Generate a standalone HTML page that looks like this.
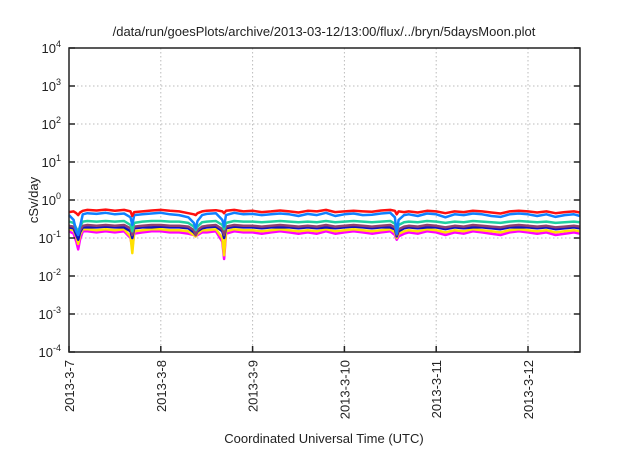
<!DOCTYPE html>
<html><head><meta charset="utf-8"><style>
body{margin:0;background:#fff;width:640px;height:448px;overflow:hidden}
svg{font-family:"Liberation Sans",sans-serif}
</style></head><body>
<svg id="chart" width="640" height="448">
<text x="324" y="36" font-size="13" text-anchor="middle" fill="#222">/data/run/goesPlots/archive/2013-03-12/13:00/flux/../bryn/5daysMoon.plot</text>
<g id="grid"></g>
<g id="series"></g>
<rect x="69" y="48" width="511" height="304" fill="none" stroke="#222" stroke-width="1.5"/>
<g id="axes"></g>
<text transform="translate(38,200) rotate(-90)" font-size="13" text-anchor="middle" fill="#222">cSv/day</text>
<text x="324" y="443" font-size="13" text-anchor="middle" fill="#222">Coordinated Universal Time (UTC)</text>
</svg>
<script>
const xTickLabels=["2013-3-7","2013-3-8","2013-3-9","2013-3-10","2013-3-11","2013-3-12"];
const yExps=[-4,-3,-2,-1,0,1,2,3,4];
const days=[0,0.05,0.08,0.1,0.12,0.15,0.2,0.3,0.4,0.5,0.6,0.67,0.69,0.71,0.8,0.9,1.0,1.1,1.2,1.3,1.36,1.38,1.40,1.45,1.5,1.6,1.67,1.69,1.71,1.8,1.9,2.0,2.1,2.2,2.3,2.4,2.5,2.6,2.7,2.8,2.9,3.0,3.1,3.2,3.3,3.4,3.5,3.55,3.57,3.59,3.65,3.7,3.8,3.9,4.0,4.1,4.2,4.3,4.4,4.5,4.6,4.7,4.8,4.9,5.0,5.1,5.2,5.3,5.4,5.5,5.57];
const red=[0.48,0.5,0.45,0.4,0.47,0.52,0.55,0.53,0.56,0.52,0.55,0.5,0.38,0.48,0.5,0.53,0.55,0.52,0.5,0.45,0.42,0.4,0.45,0.5,0.52,0.54,0.5,0.45,0.52,0.55,0.5,0.52,0.48,0.5,0.53,0.5,0.47,0.52,0.5,0.55,0.48,0.5,0.52,0.5,0.49,0.53,0.55,0.52,0.42,0.5,0.48,0.5,0.47,0.52,0.5,0.45,0.5,0.48,0.52,0.5,0.47,0.44,0.5,0.52,0.5,0.47,0.5,0.45,0.48,0.5,0.47];
const blue=[0.4,0.3,0.15,0.12,0.2,0.42,0.45,0.43,0.46,0.42,0.44,0.35,0.22,0.4,0.42,0.44,0.46,0.42,0.4,0.35,0.25,0.18,0.28,0.4,0.43,0.45,0.3,0.2,0.4,0.46,0.42,0.43,0.4,0.42,0.44,0.42,0.38,0.43,0.4,0.46,0.38,0.42,0.44,0.4,0.41,0.44,0.46,0.35,0.13,0.3,0.4,0.42,0.38,0.44,0.42,0.35,0.42,0.4,0.44,0.42,0.38,0.36,0.42,0.44,0.42,0.38,0.42,0.36,0.4,0.42,0.38];
const cyan=[0.27,0.25,0.18,0.15,0.2,0.27,0.28,0.27,0.28,0.27,0.28,0.22,0.15,0.25,0.27,0.28,0.28,0.27,0.27,0.25,0.2,0.16,0.2,0.26,0.27,0.28,0.22,0.17,0.25,0.28,0.27,0.27,0.26,0.27,0.28,0.27,0.26,0.27,0.26,0.28,0.26,0.27,0.28,0.27,0.26,0.27,0.28,0.24,0.15,0.22,0.26,0.27,0.26,0.28,0.27,0.25,0.27,0.26,0.28,0.27,0.26,0.25,0.27,0.28,0.27,0.26,0.27,0.25,0.26,0.27,0.26];
const purple=[0.21,0.2,0.15,0.12,0.16,0.21,0.22,0.21,0.22,0.21,0.22,0.18,0.12,0.2,0.21,0.22,0.22,0.21,0.21,0.2,0.16,0.12,0.16,0.2,0.21,0.22,0.17,0.12,0.2,0.22,0.21,0.21,0.2,0.21,0.22,0.21,0.2,0.21,0.2,0.22,0.2,0.21,0.22,0.21,0.2,0.21,0.22,0.19,0.12,0.17,0.2,0.21,0.2,0.22,0.21,0.19,0.21,0.2,0.22,0.21,0.2,0.19,0.21,0.22,0.21,0.2,0.21,0.19,0.2,0.21,0.2];
const navy=[0.19,0.18,0.12,0.09,0.14,0.19,0.19,0.19,0.2,0.19,0.19,0.15,0.1,0.18,0.19,0.19,0.2,0.19,0.19,0.18,0.14,0.12,0.15,0.18,0.19,0.2,0.15,0.1,0.18,0.2,0.19,0.19,0.18,0.19,0.19,0.19,0.18,0.19,0.18,0.19,0.18,0.19,0.2,0.19,0.18,0.19,0.19,0.17,0.11,0.15,0.18,0.19,0.18,0.19,0.19,0.17,0.19,0.18,0.19,0.19,0.18,0.17,0.19,0.19,0.19,0.18,0.19,0.17,0.18,0.19,0.18];
const yellow=[0.17,0.16,0.11,0.07,0.12,0.17,0.17,0.16,0.17,0.16,0.17,0.11,0.04,0.15,0.16,0.17,0.17,0.16,0.16,0.15,0.12,0.11,0.13,0.16,0.16,0.17,0.1,0.035,0.15,0.17,0.16,0.16,0.15,0.16,0.17,0.16,0.15,0.16,0.15,0.17,0.15,0.16,0.17,0.16,0.15,0.16,0.17,0.14,0.1,0.13,0.15,0.16,0.15,0.17,0.16,0.14,0.16,0.15,0.17,0.16,0.15,0.14,0.16,0.17,0.16,0.15,0.16,0.14,0.15,0.16,0.15];
const magenta=[0.15,0.13,0.08,0.05,0.09,0.15,0.15,0.14,0.15,0.14,0.15,0.1,0.055,0.13,0.14,0.15,0.15,0.14,0.14,0.13,0.12,0.11,0.12,0.14,0.14,0.15,0.08,0.028,0.13,0.15,0.14,0.14,0.13,0.14,0.15,0.14,0.13,0.14,0.13,0.15,0.13,0.14,0.15,0.14,0.13,0.14,0.15,0.12,0.09,0.11,0.13,0.14,0.13,0.15,0.14,0.12,0.14,0.13,0.15,0.14,0.13,0.12,0.14,0.15,0.14,0.13,0.14,0.12,0.13,0.14,0.13];
const seriesList=[["magenta",magenta,"#ff00ff"],["yellow",yellow,"#ffe000"],["navy",navy,"#1010c0"],["purple",purple,"#904070"],["cyan",cyan,"#20d0a0"],["blue",blue,"#1080ff"],["red",red,"#ff1010"]];
const L=69,R=580,T=48,B=352,dayPx=91.8;
const xs=d=>Math.min(R,L+d*dayPx);
const ys=v=>B-(Math.log10(v)+4)*(B-T)/8;
const NS="http://www.w3.org/2000/svg";
const grid=document.getElementById('grid'),axes=document.getElementById('axes'),sg=document.getElementById('series');
function mk(tag,attrs,parent){const e=document.createElementNS(NS,tag);for(const k in attrs)e.setAttribute(k,attrs[k]);parent.appendChild(e);return e;}
yExps.forEach((e)=>{const y=ys(Math.pow(10,e));
 if(e>-4&&e<4){const g=mk('line',{x1:L,x2:R,y1:y,y2:y,stroke:'#bbb','stroke-dasharray':'1.5,2.5'},grid);
 
 }
 const t=mk('line',{x1:L,x2:L+6,y1:y,y2:y,stroke:'#222','stroke-width':1.5},axes);
 
 
 const t2=mk('line',{x1:R-6,x2:R,y1:y,y2:y,stroke:'#222','stroke-width':1.5},axes);
 
 
 const tx=mk('text',{x:L-8,y:y+5,'font-size':13,'text-anchor':'end',fill:'#222'},axes);
 
 
 tx.appendChild(document.createTextNode('10'));
 const sp=mk('tspan',{dy:-6,'font-size':9},tx);sp.textContent=String(e);
});
xTickLabels.forEach((lab,i)=>{const x=xs(i);
 if(i>0){const g=mk('line',{x1:x,x2:x,y1:T,y2:B,stroke:'#bbb','stroke-dasharray':'1.5,2.5'},grid);
 
 }
 const t=mk('line',{x1:x,x2:x,y1:B-6,y2:B,stroke:'#222','stroke-width':1.5},axes);
 
 
 const tx=mk('text',{transform:`translate(${x+5},${B+8}) rotate(-90)`,'font-size':13,'text-anchor':'end',fill:'#222'},axes);
 
 
 tx.textContent=lab;
});
seriesList.forEach(([name,arr,col])=>{
 const pts=arr.map((v,i)=>xs(days[i]).toFixed(1)+','+ys(v).toFixed(1)).join(' ');
 const p=mk('polyline',{points:pts,fill:'none',stroke:col,'stroke-width':2.5,'stroke-linejoin':'round'},sg);
 
 
});
</script>
</body></html>
